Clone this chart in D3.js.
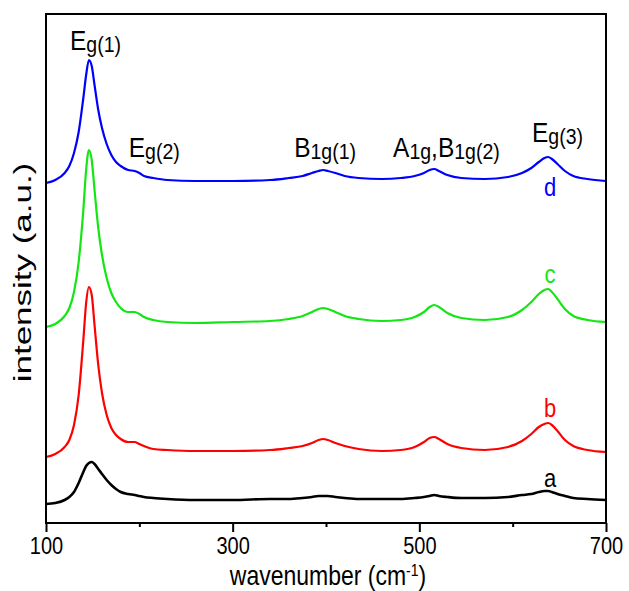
<!DOCTYPE html>
<html>
<head>
<meta charset="utf-8">
<script src="https://cdn.jsdelivr.net/npm/d3@7"></script>
<style>
  body { margin: 0; background: #fff; }
  text { font-family: "Liberation Sans", Arial, sans-serif; }
</style>
</head>
<body>
<svg width="629" height="591"></svg>
<script>
var svg = d3.select("svg"),
    width = +svg.attr("width"),
    height = +svg.attr("height");

let margin = { left: 46, right: 23, top: 14, bottom: 68 };

// Raman shift (cm-1) sample points
var wavenumber = [100,110,120,125,130,135,140,143,146,149,
                  152,156,160,165,170,175,180,188,195,200,
                  205,215,230,260,300,340,360,375,385,392,
                  397,402,410,420,435,460,480,495,505,511,
                  516,521,530,545,570,595,610,620,628,634,
                  638,642,648,656,665,680,700];

// offset spectra, arbitrary units
var seriesA = [19,20,23,26,31,40,51,57,60,61,
               59,54,49,43,38,34,31,29,28,27,
               26,25,24,23,23,24,24,25,26,27,
               27,27,26,25,24,24,24,25,26,27,
               28,27,26,25,25,26,28,29,31,32,
               32,31,29,27,25,24,23];
var seriesB = [66,69,76,83,98,128,183,220,236,228,
               198,158,130,108,95,88,84,81,81,79,
               77,74,73,72,72,73,75,77,80,83,
               84,83,80,77,74,72,73,76,81,85,
               86,84,79,75,73,76,82,89,96,99,
               100,98,92,83,77,73,71];
var seriesC = [196,199,207,215,231,261,313,353,373,363,
               333,295,268,245,230,221,215,211,211,209,
               206,203,201,200,201,202,204,207,211,214,
               215,214,211,207,204,202,203,206,211,216,
               218,216,210,205,203,206,213,221,229,233,
               234,231,224,214,207,203,201];
var seriesD = [340,343,350,357,370,391,425,448,463,457,
               438,413,395,379,368,361,357,353,352,350,
               347,345,343,342,342,343,345,347,350,352,
               353,352,350,347,345,344,345,347,350,353,
               354,352,348,345,344,346,350,355,361,365,
               366,364,359,352,347,344,342];

var seriesNames = ["a", "b", "c", "d"];
var seriesColors = ["#000000", "#ff0000", "#14e614", "#0000ff"];

var xTicks = [100, 300, 500, 700];
var xMinorTicks = [200, 400, 600];

// peak assignments: wavenumber of label centre, then [text, is subscript]
var peakLabels = [
  { wn: 153, parts: [["E", 0], ["g(1)", 1]] },
  { wn: 216, parts: [["E", 0], ["g(2)", 1]] },
  { wn: 399, parts: [["B", 0], ["1g(1)", 1]] },
  { wn: 529, parts: [["A", 0], ["1g", 1], [",", 0], ["B", 0], ["1g(2)", 1]] },
  { wn: 648, parts: [["E", 0], ["g(3)", 1]] }
];

var x = d3.scaleLinear()
    .domain([100, 700])
    .range([margin.left, width - margin.right]);

var y = d3.scaleLinear()
    .domain([0, 509])
    .range([height - margin.bottom, margin.top]);

var allSeries = [seriesA, seriesB, seriesC, seriesD];

var line = d3.line()
    .x(function(d, i) { return x(wavenumber[i]); })
    .y(function(d) { return y(d); })
    .curve(d3.curveMonotoneX);

svg.append("g")
    .selectAll("path")
    .data(allSeries)
    .enter().append("path")
      .attr("fill", "none")
      .attr("stroke", function(d, i) { return seriesColors[i]; })
      .attr("stroke-width", function(d, i) { return i == 0 ? 2.6 : 2.2; })
      .attr("stroke-linejoin", "round")
      .attr("d", line);

// frame
svg.append("rect")
    .attr("x", margin.left)
    .attr("y", margin.top)
    .attr("width", width - margin.left - margin.right)
    .attr("height", height - margin.top - margin.bottom)
    .attr("fill", "none")
    .attr("stroke", "#000")
    .attr("stroke-width", 2);

// bottom axis, labels drawn a bit taller like the original
var xAxis = svg.append("g")
    .attr("transform", "translate(0," + (height - margin.bottom) + ")")
    .call(d3.axisBottom(x).tickValues(xTicks).tickSize(9).tickPadding(0).tickFormat(d3.format("d")));
xAxis.select(".domain").remove();
xAxis.selectAll(".tick line").attr("stroke-width", 2);
xAxis.selectAll(".tick text")
    .attr("y", 11)
    .attr("transform", "scale(1,1.22)")
    .attr("font-size", 20)
    .attr("font-family", "Liberation Sans, Arial, sans-serif")
    .attr("fill", "#000");

var xMinor = svg.append("g")
    .attr("transform", "translate(0," + (height - margin.bottom) + ")")
    .call(d3.axisBottom(x).tickValues(xMinorTicks).tickSize(4).tickFormat(""));
xMinor.select(".domain").remove();
xMinor.selectAll(".tick line").attr("stroke-width", 2);

// axis titles
var xt = svg.append("text")
    .attr("transform", "translate(" + ((margin.left + width - margin.right) / 2 + 2) + "," + (height - 6) + ") scale(1,1.22)")
    .attr("text-anchor", "middle")
    .attr("font-size", 23);
xt.append("tspan").text("wavenumber (cm");
xt.append("tspan").attr("font-size", 14).attr("baseline-shift", "super").text("-1");
xt.append("tspan").text(")");

svg.append("text")
    .attr("transform", "translate(31," + ((margin.top + height - margin.bottom) / 2 + 4) + ") rotate(-90) scale(1.52,1)")
    .attr("text-anchor", "middle")
    .attr("font-size", 23)
    .text("intensity (a.u.)");

// peak labels
var peakY = [50, 157, 157, 157, 142];
peakLabels.forEach(function(p, k) {
  var t = svg.append("text")
      .attr("transform", "translate(" + x(p.wn) + "," + peakY[k] + ") scale(1,1.1)")
      .attr("text-anchor", "middle")
      .attr("fill", "#000");
  p.parts.forEach(function(part) {
    t.append("tspan")
      .attr("font-size", part[1] ? 19.5 : 24.5)
      .attr("baseline-shift", part[1] ? "-2" : null)
      .text(part[0]);
  });
});

// series letters
var letterY = [487, 417, 283, 196];
seriesNames.forEach(function(n, i) {
  svg.append("text")
    .attr("transform", "translate(" + x(640) + "," + letterY[i] + ") scale(1,1.15)")
    .attr("text-anchor", "middle")
    .attr("font-size", 22)
    .attr("fill", seriesColors[i])
    .text(n);
});
</script>
</body>
</html>
